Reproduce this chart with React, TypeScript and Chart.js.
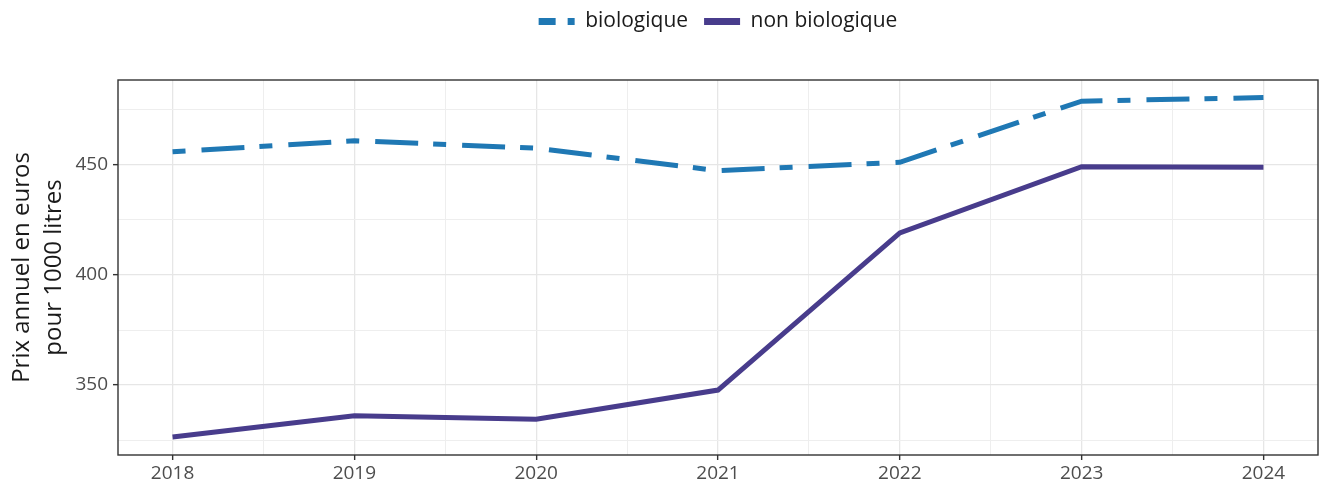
import React, { useEffect, useRef } from 'react';
import { Chart, registerables } from 'chart.js';
Chart.register(...registerables);

const years = [2018, 2019, 2020, 2021, 2022, 2023, 2024];
const bioValues = [456, 461, 457.6, 447.4, 451.2, 479, 480.6];
const nonBioValues = [326.4, 336, 334.5, 347.7, 419.1, 449.2, 449];
const xGridTicks = [2018, 2018.5, 2019, 2019.5, 2020, 2020.5, 2021, 2021.5, 2022, 2022.5, 2023, 2023.5, 2024];
const yGridTicks = [325, 350, 375, 400, 425, 450, 475];
const yLabelTicks = [350, 400, 450];
const seriesLabels = ['biologique', 'non biologique'];
const yTitle = ['Prix annuel en euros', 'pour 1000 litres'];

const FONT = "'Open Sans', 'Noto Sans', sans-serif";

const panelBorder = {
  id: 'panelBorder',
  afterDraw(chart: any) {
    const { ctx, chartArea } = chart;
    ctx.save();
    ctx.strokeStyle = '#333333';
    ctx.lineWidth = 1.4;
    ctx.strokeRect(chartArea.left, chartArea.top, chartArea.right - chartArea.left, chartArea.bottom - chartArea.top);
    ctx.restore();
  },
};

export default function App() {
  const ref = useRef<HTMLCanvasElement>(null);
  useEffect(() => {
    const chart = new Chart(ref.current as HTMLCanvasElement, {
      type: 'line',
      data: {
        datasets: [
          {
            label: seriesLabels[0],
            data: years.map((y, i) => ({ x: y, y: bioValues[i] })),
            xAxisID: 'x',
            yAxisID: 'y',
            borderColor: '#1f78b4',
            backgroundColor: '#1f78b4',
            borderWidth: 5,
            borderDash: [13, 16, 43, 15],
            pointRadius: 0,
            tension: 0,
          },
          {
            label: seriesLabels[1],
            data: years.map((y, i) => ({ x: y, y: nonBioValues[i] })),
            xAxisID: 'x',
            yAxisID: 'y',
            borderColor: '#483c8c',
            backgroundColor: '#483c8c',
            borderWidth: 5,
            pointRadius: 0,
            tension: 0,
          },
        ],
      },
      options: {
        animation: false,
        responsive: false,
        layout: { padding: { left: 0, right: 1, top: -5, bottom: 0 } },
        plugins: {
          tooltip: { enabled: false },
          legend: {
            position: 'top',
            fullSize: false,
            labels: {
              usePointStyle: true,
              pointStyle: 'line',
              pointStyleWidth: 36,
              padding: 16,
              color: '#1a1a1a',
              font: { family: FONT, size: 21 },
              generateLabels(chart: any) {
                const items = Chart.defaults.plugins.legend.labels.generateLabels(chart);
                items.forEach((it: any, i: number) => {
                  it.lineDash = i === 0 ? [17, 12] : [];
                  it.lineWidth = 7;
                  it.pointStyle = 'line';
                });
                return items;
              },
            },
          },
        },
        scales: {
          spacer: {
            type: 'linear',
            axis: 'x',
            position: 'top',
            display: true,
            min: 0,
            max: 1,
            afterFit(scale: any) {
              scale.height = 38;
            },
            ticks: { display: false },
            grid: { display: false, drawTicks: false },
            border: { display: false },
          },
          x: {
            type: 'linear',
            axis: 'x',
            position: 'bottom',
            min: 2017.7,
            max: 2024.3,
            afterBuildTicks(scale: any) {
              scale.ticks = xGridTicks.map((v) => ({ value: v }));
            },
            afterFit(scale: any) {
              scale.height = 29;
            },
            ticks: {
              autoSkip: false,
              maxRotation: 0,
              padding: 2,
              color: '#4d4d4d',
              font: { family: FONT, size: 19 },
              callback: (v: any) => (Number.isInteger(v) ? String(v) : ''),
            },
            border: { display: false },
            grid: {
              drawTicks: true,
              tickLength: 5,
              color: (c: any) => (Number.isInteger(c.tick?.value) ? '#e6e6e6' : '#eeeeee'),
              lineWidth: (c: any) => (Number.isInteger(c.tick?.value) ? 1.3 : 1),
              tickColor: (c: any) => (Number.isInteger(c.tick?.value) ? '#333333' : 'rgba(0,0,0,0)'),
              tickWidth: 1.4,
            },
          },
          y: {
            type: 'linear',
            min: 318.2,
            max: 488.6,
            afterBuildTicks(scale: any) {
              scale.ticks = yGridTicks.map((v) => ({ value: v }));
            },
            afterFit(scale: any) {
              scale.width = 118;
            },
            title: {
              display: true,
              text: yTitle,
              color: '#1a1a1a',
              font: { family: FONT, size: 24, lineHeight: 1.33 },
              padding: { top: 6, bottom: 0 },
            },
            ticks: {
              padding: 5,
              color: '#4d4d4d',
              font: { family: FONT, size: 19 },
              callback: (v: any) => (yLabelTicks.includes(v) ? String(v) : ''),
            },
            border: { display: false },
            grid: {
              drawTicks: true,
              tickLength: 5,
              color: (c: any) => (yLabelTicks.includes(c.tick?.value) ? '#e6e6e6' : '#eeeeee'),
              lineWidth: (c: any) => (yLabelTicks.includes(c.tick?.value) ? 1.3 : 1),
              tickColor: (c: any) => (yLabelTicks.includes(c.tick?.value) ? '#333333' : 'rgba(0,0,0,0)'),
              tickWidth: 1.4,
            },
          },
        },
      },
      plugins: [panelBorder],
    } as any);
    return () => chart.destroy();
  }, []);
  return (
    <div style={{ position: 'fixed', left: 0, top: 0, width: 1319, height: 484, background: '#fff' }}>
      <canvas ref={ref} width={1319} height={484} />
    </div>
  );
}
